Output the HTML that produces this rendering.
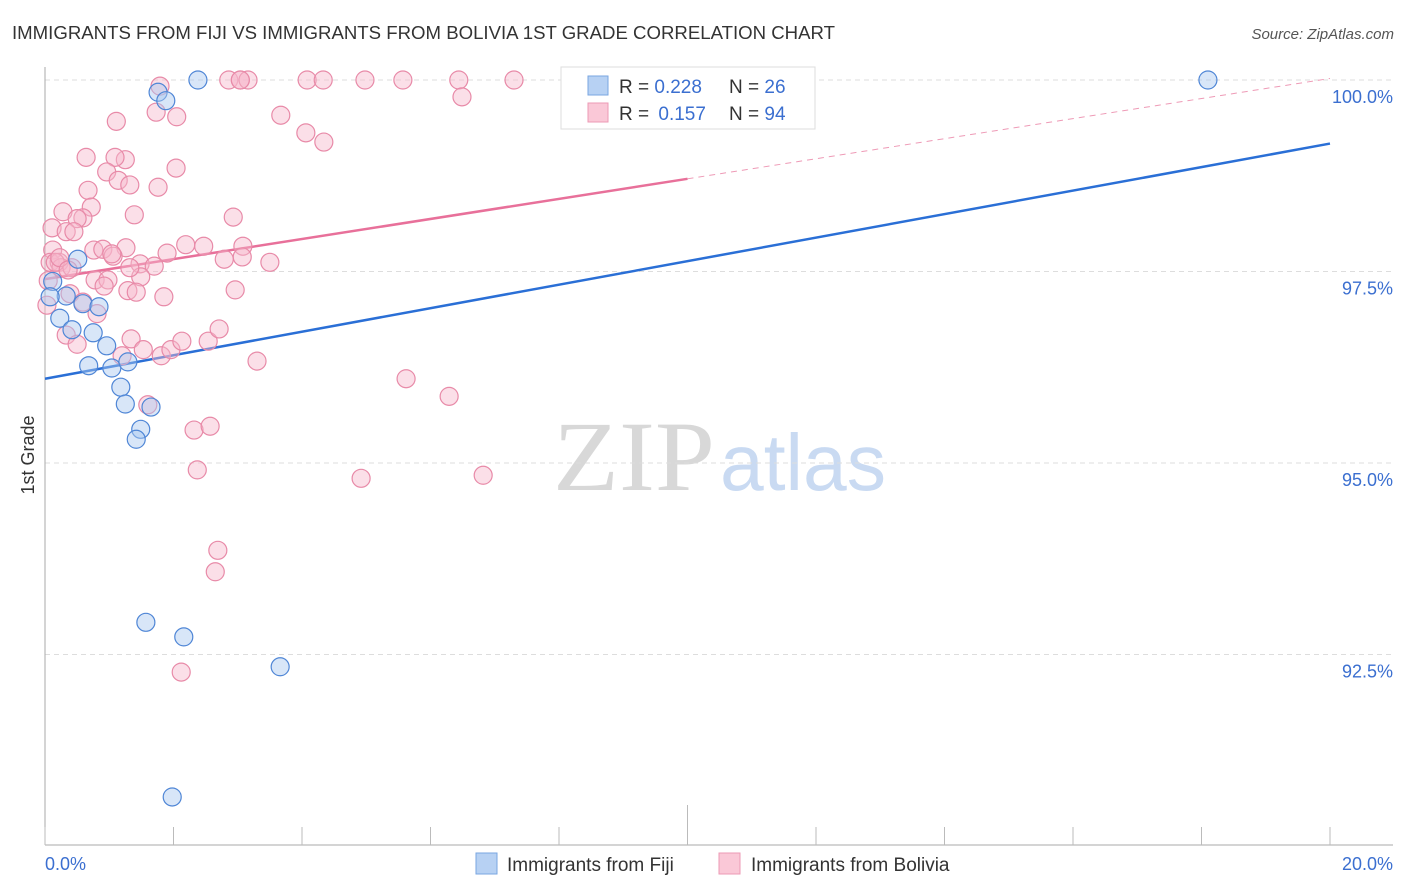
<!DOCTYPE html>
<html><head><meta charset="utf-8"><style>
body{margin:0;background:#fff;}
svg{display:block;font-family:"Liberation Sans",sans-serif;}
</style></head><body>
<svg id="chart" width="1406" height="892" viewBox="0 0 1406 892">
<text x="12" y="39" font-size="18" fill="#333" textLength="823" lengthAdjust="spacingAndGlyphs">IMMIGRANTS FROM FIJI VS IMMIGRANTS FROM BOLIVIA 1ST GRADE CORRELATION CHART</text>
<text x="1394" y="39" font-size="15" font-style="italic" fill="#555" text-anchor="end">Source: ZipAtlas.com</text>
<g>
<text x="553" y="490" font-family="Liberation Serif,serif" font-size="100" fill="#d8d8d8" textLength="162" lengthAdjust="spacingAndGlyphs">ZIP</text>
<text x="720" y="490" font-size="80" fill="#c9daf2" textLength="166" lengthAdjust="spacingAndGlyphs">atlas</text>
</g>
<g id="grid"></g>
<g id="axes"></g>
<g id="trends"></g>
<g id="points"></g>
<text transform="translate(34,455) rotate(-90)" font-size="18" fill="#333" text-anchor="middle">1st Grade</text>
<g>
<rect x="561" y="67" width="254" height="62" fill="#fff" stroke="#ddd"/>
<rect x="588" y="76" width="20" height="19" fill="#b7d1f3" stroke="#7aa6e0"/>
<rect x="588" y="103" width="20" height="19" fill="#fac8d7" stroke="#ec9ab4"/>
<text x="619" y="93" font-size="19" fill="#333">R = <tspan fill="#3b6fd0">0.228</tspan></text>
<text x="729" y="93" font-size="19" fill="#333">N = <tspan fill="#3b6fd0">26</tspan></text>
<text x="619" y="120" font-size="19" fill="#333">R = <tspan fill="#3b6fd0" dx="4">0.157</tspan></text>
<text x="729" y="120" font-size="19" fill="#333">N = <tspan fill="#3b6fd0">94</tspan></text>
</g>
<g>
<rect x="476" y="853" width="21" height="21" fill="#b7d1f3" stroke="#7aa6e0"/>
<text x="507" y="871" font-size="19" fill="#333">Immigrants from Fiji</text>
</g>
<g>
<rect x="719" y="853" width="21" height="21" fill="#fac8d7" stroke="#ec9ab4"/>
<text x="751" y="871" font-size="19" fill="#333">Immigrants from Bolivia</text>
</g>
</svg>
<script>
const fijiX=[2.38,1.76,1.88,18.10,0.51,0.12,0.33,0.59,0.84,0.23,0.42,0.75,0.96,0.68,1.04,1.29,1.18,1.25,1.65,1.49,1.42,1.57,2.16,3.66,1.98,0.08];
const fijiY=[100.0,99.84,99.73,100.0,97.66,97.37,97.18,97.08,97.04,96.89,96.74,96.70,96.53,96.27,96.24,96.32,95.99,95.77,95.73,95.44,95.31,92.92,92.73,92.34,90.64,97.17];
const bolX=[1.79,1.73,2.05,1.11,0.64,1.25,1.09,0.96,1.14,1.32,1.76,2.04,0.67,0.72,0.28,0.59,0.50,1.39,2.93,0.11,0.33,0.45,0.12,0.76,0.90,1.26,1.06,2.19,2.47,3.08,0.08,0.22,0.25,0.42,1.48,1.70,3.07,3.50,2.79,1.90,0.78,0.98,0.92,1.49,1.29,1.42,1.85,2.96,0.39,0.59,0.81,0.33,0.50,1.20,1.34,1.53,1.81,1.96,2.13,2.54,2.71,3.30,5.62,6.29,1.60,2.32,2.57,2.37,4.92,6.82,2.69,2.65,2.12,2.86,3.04,3.16,4.08,4.33,4.98,5.57,6.44,7.30,6.49,3.67,4.06,4.34,3.04,0.05,0.03,0.16,0.23,0.36,1.04,1.32];
const bolY=[99.92,99.58,99.52,99.46,98.99,98.96,98.99,98.80,98.69,98.63,98.60,98.85,98.56,98.34,98.28,98.20,98.19,98.24,98.21,98.07,98.02,98.02,97.78,97.78,97.79,97.81,97.70,97.85,97.83,97.83,97.62,97.62,97.55,97.55,97.60,97.57,97.69,97.62,97.66,97.74,97.39,97.39,97.31,97.43,97.25,97.23,97.17,97.26,97.21,97.10,96.95,96.67,96.55,96.40,96.62,96.48,96.40,96.48,96.59,96.59,96.75,96.33,96.10,95.87,95.76,95.43,95.48,94.91,94.80,94.84,93.86,93.58,92.27,100.0,100.0,100.0,100.0,100.0,100.0,100.0,100.0,100.0,99.78,99.54,99.31,99.19,100.0,97.38,97.06,97.62,97.68,97.52,97.73,97.55];
const trendIntercept=[96.10,97.40];
const trendSlope=[0.1535,0.131];
const yTicks=[100,97.5,95,92.5];
const yTickLabels=["100.0%","97.5%","95.0%","92.5%"];
const xTicks=[0,2,4,6,8,10,12,14,16,18,20];

const NS="http://www.w3.org/2000/svg";
const X0=45,X1=1330,Y100=80,PPU=76.6;
function sx(v){return X0+(X1-X0)*v/20;}
function sy(v){return Y100+(100-v)*PPU;}
function mk(tag,attrs,parent){const e=document.createElementNS(NS,tag);for(const k in attrs)e.setAttribute(k,attrs[k]);parent.appendChild(e);return e;}
const grid=document.getElementById('grid'),axes=document.getElementById('axes'),tr=document.getElementById('trends'),pts=document.getElementById('points');
yTicks.forEach((t,i)=>{
 const l=mk('line',{x1:X0,x2:1393,y1:sy(t),y2:sy(t),stroke:'#ddd','stroke-dasharray':'5,4'},grid);
 
 
 const tx=mk('text',{x:1393,y:sy(t)+23,'font-size':18,fill:'#3b6fd0','text-anchor':'end'},grid);
 tx.textContent=yTickLabels[i];
 
 
});
const ya=mk('line',{x1:X0,x2:X0,y1:67,y2:845,stroke:'#aaa'},axes);


const xa=mk('line',{x1:X0,x2:1393,y1:845,y2:845,stroke:'#aaa'},axes);


xTicks.forEach(t=>{
 const l=mk('line',{x1:sx(t),x2:sx(t),y1:t===10?805:827,y2:845,stroke:'#bbb'},axes);
 
 
});
const xl0=mk('text',{x:45,y:870,'font-size':18,fill:'#3b6fd0'},axes);xl0.textContent=xTicks[0].toFixed(1)+'%';


const xl1=mk('text',{x:1393,y:870,'font-size':18,fill:'#3b6fd0','text-anchor':'end'},axes);xl1.textContent=xTicks[xTicks.length-1].toFixed(1)+'%';



function pointSet(xs,ys,fill,stroke,name){
 xs.forEach((x,i)=>{
  const c=mk('circle',{cx:sx(x),cy:sy(ys[i]),r:9,fill:fill,'fill-opacity':0.45,stroke:stroke,'stroke-width':1.2},pts);
  
  
 });
}
pointSet(bolX,bolY,'#f7b9cc','#e88aa8','bolivia-point');
pointSet(fijiX,fijiY,'#a9c8f0','#4f86d6','fiji-point');

const fl=mk('line',{x1:sx(0),y1:sy(trendIntercept[0]),x2:sx(20),y2:sy(trendIntercept[0]+20*trendSlope[0]),stroke:'#2a6fd6','stroke-width':2.5},tr);


const pl=mk('line',{x1:sx(0),y1:sy(trendIntercept[1]),x2:sx(10),y2:sy(trendIntercept[1]+10*trendSlope[1]),stroke:'#e8709a','stroke-width':2.5},tr);


const pd=mk('line',{x1:sx(10),y1:sy(trendIntercept[1]+10*trendSlope[1]),x2:sx(20),y2:sy(trendIntercept[1]+20*trendSlope[1]),stroke:'#ee9ab6','stroke-width':1,'stroke-dasharray':'6,5'},tr);


</script>
</body></html>
